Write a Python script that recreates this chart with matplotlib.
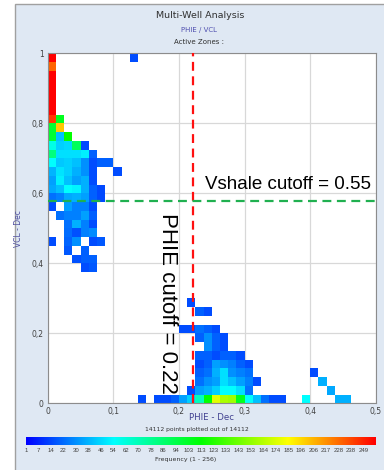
import numpy as np
import matplotlib
matplotlib.use("Agg")
import matplotlib.pyplot as plt
from matplotlib.colors import LinearSegmentedColormap
from matplotlib.patches import Rectangle

# ---------------- data ----------------
phie_step = 0.0125
vcl_step = 0.025
# each row: VCL bin lower edge, PHIE start of first bin, frequencies (0 = empty)
row_vcl = [0.975, 0.95, 0.925, 0.9, 0.875, 0.85, 0.825, 0.8, 0.775, 0.75,
           0.725, 0.7, 0.675, 0.65, 0.625, 0.6, 0.575, 0.55, 0.525, 0.5,
           0.475, 0.45, 0.425, 0.4, 0.375,
           0.275, 0.25, 0.2, 0.175, 0.15, 0.125, 0.1, 0.075, 0.05, 0.025, 0.0]
row_phie_start = [0.0] * 25 + [0.2] * 10 + [0.1375]
row_freq = [
    [256, 0, 0, 0, 0, 0, 0, 0, 0, 0, 15],
    [230],
    [256], [256], [256], [256], [256],
    [243, 105],
    [100, 201],
    [100, 40, 113],
    [60, 44, 46, 90, 14],
    [82, 47, 47, 47, 51, 19],
    [54, 42, 44, 40, 30, 15, 19, 19],
    [38, 48, 44, 37, 30, 15, 0, 0, 15],
    [33, 51, 40, 33, 37, 15],
    [35, 40, 54, 52, 37, 19, 14],
    [23, 26, 35, 37, 33, 19, 14],
    [15, 0, 33, 26, 26, 15],
    [0, 23, 26, 26, 33, 19],
    [0, 0, 23, 37, 26, 15],
    [0, 0, 22, 16, 26, 29],
    [15, 0, 20, 30, 0, 15, 18],
    [0, 0, 18, 0, 19],
    [0, 0, 0, 16, 19, 19],
    [0, 0, 0, 0, 15, 18],
    [0, 15],
    [0, 0, 19, 15],
    [15, 15, 23, 19, 15],
    [0, 0, 19, 30, 19, 15],
    [0, 0, 0, 30, 19, 15],
    [0, 0, 19, 19, 15, 19, 19, 15],
    [0, 0, 15, 19, 33, 30, 26, 19, 15],
    [0, 0, 19, 23, 37, 47, 30, 26, 23, 0, 0, 0, 0, 0, 0, 0, 15],
    [0, 0, 23, 30, 33, 47, 40, 33, 26, 15, 0, 0, 0, 0, 0, 0, 0, 37],
    [0, 15, 33, 37, 44, 54, 54, 47, 23, 0, 0, 0, 0, 0, 0, 0, 0, 0, 35],
    [15, 0, 15, 15, 19, 33, 44, 68, 113, 176, 160, 157, 105, 55, 40, 23, 15, 15,
     0, 0, 54, 0, 0, 0, 37, 37],
]
cbar_ticks = [1, 7, 14, 22, 30, 38, 46, 54, 62, 70, 78, 86, 94, 103, 113, 123,
              133, 143, 153, 164, 174, 185, 196, 206, 217, 228, 238, 249]
freq_max = 256
phie_cutoff = 0.222
vshale_line = 0.577
total_points = 14112

# ---------------- grid ----------------
nx = int(round(0.5 / phie_step))
ny = int(round(1.0 / vcl_step))
grid = np.zeros((ny, nx))
for v, p0, fr in zip(row_vcl, row_phie_start, row_freq):
    jy = int(round(v / vcl_step))
    ix0 = int(round(p0 / phie_step))
    for k, f in enumerate(fr):
        grid[jy, ix0 + k] = f

pos = np.arange(len(cbar_ticks) + 1) / len(cbar_ticks)
vals = np.array(cbar_ticks + [freq_max], dtype=float)
frac = np.interp(grid, vals, pos)
frac = np.ma.masked_where(grid <= 0, frac)

cmap = LinearSegmentedColormap.from_list(
    "rainbow5", ["#0000ff", "#00ffff", "#00ff00", "#ffff00", "#ff0000"])

# ---------------- figure ----------------
W, H = 384, 470
fig = plt.figure(figsize=(W / 100, H / 100), dpi=100, facecolor="white")
fig.patches.append(Rectangle((15 / W, -0.01), 1.0, (H - 4) / H + 0.01,
                             transform=fig.transFigure, facecolor="#dfe8f3",
                             edgecolor="#a0a0a0", linewidth=1.0, zorder=-10))

ax = fig.add_axes([47.7 / W, (H - 403.3) / H, 328 / W, 350 / H])
ax.set_facecolor("white")
xe = np.linspace(0, 0.5, nx + 1)
ye = np.linspace(0, 1.0, ny + 1)
ax.pcolormesh(xe, ye, frac, cmap=cmap, vmin=0, vmax=1, zorder=2)
ax.set_xlim(0, 0.5)
ax.set_ylim(0, 1)

xt = [0, 0.1, 0.2, 0.3, 0.4, 0.5]
yt = [0, 0.2, 0.4, 0.6, 0.8, 1.0]
ax.set_xticks(xt)
ax.set_yticks(yt)
fmt = lambda t: "0" if t == 0 else ("1" if t == 1 else ("%.1f" % t).replace(".", ","))
ax.set_xticklabels([fmt(t) for t in xt])
ax.set_yticklabels([fmt(t) for t in yt])
ax.tick_params(length=0, labelsize=5.5, labelcolor="#404040", pad=3)
ax.grid(True, color="#d8d8d8", linewidth=0.9, zorder=1)
ax.set_axisbelow(True)
for s in ax.spines.values():
    s.set_color("#8c8c8c")
    s.set_linewidth(0.8)

ax.axvline(phie_cutoff, color="#ff1010", linestyle=(0, (4, 2.5)), linewidth=1.6, zorder=4)
ax.axhline(vshale_line, color="#20b050", linestyle=(0, (4, 2.5)), linewidth=1.6, zorder=4)

ax.text(0.24, 0.624, "Vshale cutoff = 0.55", fontsize=13.5, family="Liberation Sans",
        ha="left", va="center", color="black", zorder=5)
ax.text(0.183, 0.284, "PHIE cutoff = 0.22", fontsize=16, family="Liberation Sans",
        ha="center", va="center", rotation=270, color="black", zorder=5)

ax.set_ylabel("VCL - Dec", fontsize=5.5, color="#5050a0", labelpad=6)

fig.text(211.7 / W, 1 - 418 / H, "PHIE - Dec", fontsize=6.2, ha="center",
         va="center", color="#404090")
fig.text(200 / W, 1 - 16 / H, "Multi-Well Analysis", fontsize=6.8, ha="center",
         va="center", color="#303030")
fig.text(199 / W, 1 - 30 / H, "PHIE / VCL", fontsize=5, ha="center", va="center",
         color="#5050b0")
fig.text(199.5 / W, 1 - 42 / H, "Active Zones :", fontsize=5, ha="center",
         va="center", color="#303030")
fig.text(197 / W, 1 - 429 / H, "%d points plotted out of %d" % (total_points, total_points),
         fontsize=4.3, ha="center", va="center", color="#303030")

# colorbar
cax = fig.add_axes([26 / W, (H - 445) / H, 350 / W, 8 / H])
grad = np.linspace(0, 1, 512).reshape(1, -1)
cax.imshow(grad, aspect="auto", cmap=cmap, extent=[0, 1, 0, 1])
cax.set_xlim(0, 1)
cax.set_yticks([])
cax.set_xticks(pos[:-1])
cax.set_xticklabels([str(t) for t in cbar_ticks], family="Liberation Sans")
cax.tick_params(length=0, labelsize=4.3, labelcolor="#404040", pad=2)
for s in cax.spines.values():
    s.set_visible(False)
fig.text(186 / W, 1 - 459 / H, "Frequency (1 - %d)" % freq_max, fontsize=4.5,
         ha="center", va="center", color="#303030")

fig.savefig("out.png", dpi=100, facecolor=fig.get_facecolor())
